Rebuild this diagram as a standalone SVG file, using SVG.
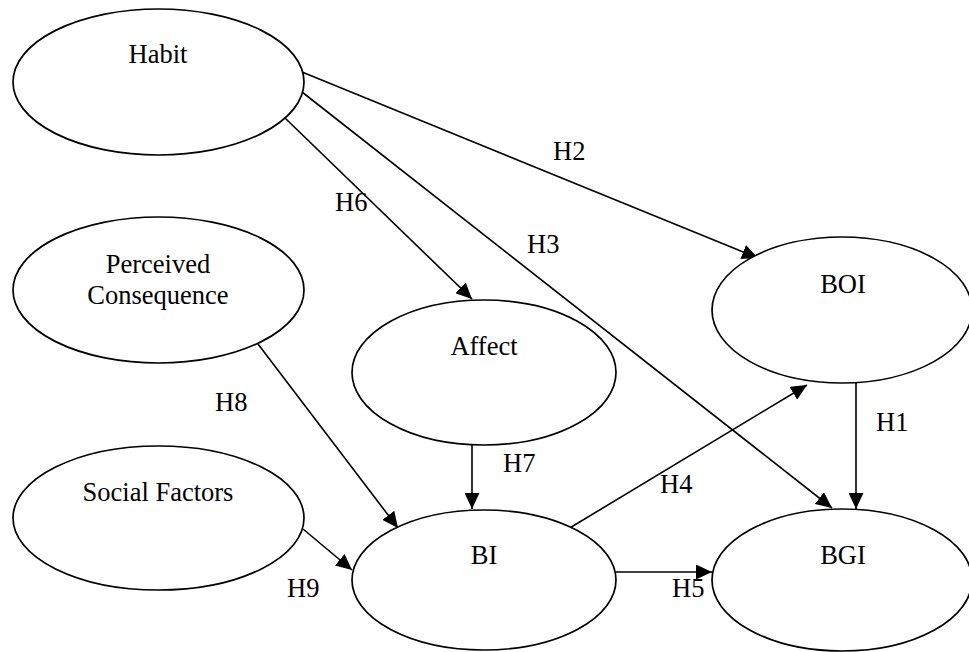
<svg xmlns="http://www.w3.org/2000/svg" width="969" height="652" viewBox="0 0 969 652">
<style>
.node ellipse{fill:#fff;stroke:#000;stroke-width:1.7}
text{font-family:"Liberation Serif","Times New Roman",serif;font-size:26.5px;fill:#000}
.c{text-anchor:middle}
.edge line{stroke:#000;stroke-width:1.6;fill:none}
</style>
<defs>
<marker id="ah" markerUnits="userSpaceOnUse" markerWidth="17" markerHeight="15" refX="16" refY="7.5" orient="auto">
<path d="M0,0 L16,7.5 L0,15 z" fill="#000"/>
</marker>
</defs>
<rect width="969" height="652" fill="#fff"/>
<g id="connectors" class="edge">
<line x1="302" y1="72" x2="758" y2="258" marker-end="url(#ah)"/>
<line x1="302" y1="92" x2="832" y2="508" marker-end="url(#ah)"/>
<line x1="285" y1="118" x2="472" y2="299" marker-end="url(#ah)"/>
<line x1="258" y1="344" x2="398" y2="528" marker-end="url(#ah)"/>
<line x1="303" y1="529" x2="352" y2="570" marker-end="url(#ah)"/>
<line x1="472" y1="445" x2="472" y2="509" marker-end="url(#ah)"/>
<line x1="568" y1="529" x2="807" y2="385" marker-end="url(#ah)"/>
<line x1="856" y1="383" x2="856" y2="509" marker-end="url(#ah)"/>
<line x1="616" y1="572" x2="712" y2="572" marker-end="url(#ah)"/>
</g>
<g id="habit" class="node"><ellipse cx="158.5" cy="82" rx="145.5" ry="73"/><text class="c" x="158" y="63">Habit</text></g>
<g id="perceived" class="node"><ellipse cx="158.5" cy="290" rx="145.5" ry="73"/><text class="c" x="158" y="273">Perceived</text><text class="c" x="158" y="304">Consequence</text></g>
<g id="social" class="node"><ellipse cx="158.5" cy="518" rx="145.5" ry="72"/><text class="c" x="158" y="501">Social Factors</text></g>
<g id="affect" class="node"><ellipse cx="484" cy="372.5" rx="132" ry="72.5"/><text class="c" x="484" y="355">Affect</text></g>
<g id="bi" class="node"><ellipse cx="484" cy="580" rx="132" ry="70"/><text class="c" x="484" y="564">BI</text></g>
<g id="boi" class="node"><ellipse cx="842" cy="310" rx="130" ry="73"/><text class="c" x="843" y="293">BOI</text></g>
<g id="bgi" class="node"><ellipse cx="842" cy="580" rx="130" ry="71"/><text class="c" x="843" y="564">BGI</text></g>
<g id="labels">
<text x="553" y="160">H2</text>
<text x="335" y="211">H6</text>
<text x="527" y="253">H3</text>
<text x="876" y="431">H1</text>
<text x="215" y="411">H8</text>
<text x="503" y="472">H7</text>
<text x="660" y="493">H4</text>
<text x="287" y="597">H9</text>
<text x="672" y="597">H5</text>
</g>
</svg>
